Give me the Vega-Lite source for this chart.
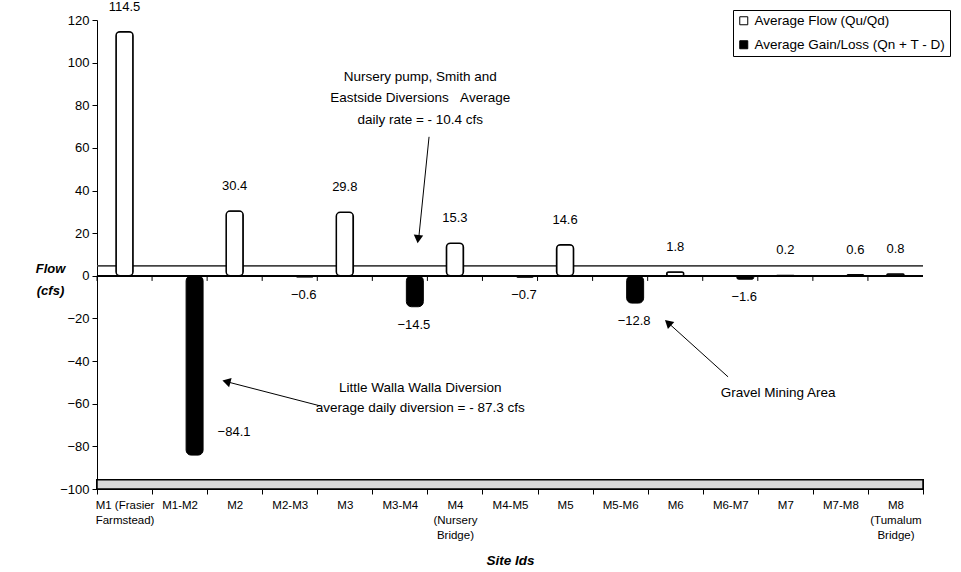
{
  "$schema": "https://vega.github.io/schema/vega-lite/v6.json",
  "width": 826,
  "height": 469,
  "autosize": "none",
  "padding": {"left": 97, "top": 20, "right": 38, "bottom": 83},
  "background": "white",
  "config": {
    "font": "Liberation Sans",
    "view": {"stroke": null},
    "axis": {"domainColor": "black", "tickColor": "black", "labelColor": "black", "titleColor": "black", "grid": false}
  },
  "resolve": {"scale": {"x": "independent"}, "axis": {"x": "independent"}},
  "layer": [
    {
      "data": {
        "values": [
          {"site": "M1 (Frasier Farmstead)", "series": "Average Flow (Qu/Qd)", "value": 114.5},
          {"site": "M1-M2", "series": "Average Gain/Loss (Qn + T - D)", "value": -84.1},
          {"site": "M2", "series": "Average Flow (Qu/Qd)", "value": 30.4},
          {"site": "M2-M3", "series": "Average Gain/Loss (Qn + T - D)", "value": -0.6},
          {"site": "M3", "series": "Average Flow (Qu/Qd)", "value": 29.8},
          {"site": "M3-M4", "series": "Average Gain/Loss (Qn + T - D)", "value": -14.5},
          {"site": "M4 (Nursery Bridge)", "series": "Average Flow (Qu/Qd)", "value": 15.3},
          {"site": "M4-M5", "series": "Average Gain/Loss (Qn + T - D)", "value": -0.7},
          {"site": "M5", "series": "Average Flow (Qu/Qd)", "value": 14.6},
          {"site": "M5-M6", "series": "Average Gain/Loss (Qn + T - D)", "value": -12.8},
          {"site": "M6", "series": "Average Flow (Qu/Qd)", "value": 1.8},
          {"site": "M6-M7", "series": "Average Gain/Loss (Qn + T - D)", "value": -1.6},
          {"site": "M7", "series": "Average Flow (Qu/Qd)", "value": 0.2},
          {"site": "M7-M8", "series": "Average Gain/Loss (Qn + T - D)", "value": 0.6},
          {"site": "M8 (Tumalum Bridge)", "series": "Average Flow (Qu/Qd)", "value": 0.8}
        ]
      },
      "encoding": {
        "x": {
          "field": "site", "type": "nominal", "sort": null,
          "scale": {"paddingInner": 0, "paddingOuter": 0},
          "axis": {
            "title": "Site Ids", "titleFontStyle": "italic", "titleFontWeight": "bold", "titleFontSize": 13.5,
            "titleY": 71, "titleBaseline": "middle",
            "labelAngle": 0, "labelFontSize": 11.5, "labelLineHeight": 15, "labelPadding": 5,
            "tickBand": "extent", "tickSize": 5, "labelBaseline": "top",
            "labelExpr": "datum.value == 'M1 (Frasier Farmstead)' ? ['M1 (Frasier', 'Farmstead)'] : datum.value == 'M4 (Nursery Bridge)' ? ['M4', '(Nursery', 'Bridge)'] : datum.value == 'M8 (Tumalum Bridge)' ? ['M8', '(Tumalum', 'Bridge)'] : datum.value"
          }
        },
        "y": {
          "field": "value", "type": "quantitative",
          "scale": {"domain": [-100, 120], "nice": false},
          "axis": {
            "values": [-100, -80, -60, -40, -20, 0, 20, 40, 60, 80, 100, 120],
            "title": ["Flow", "(cfs)"], "titleAngle": 0, "titleFontStyle": "italic", "titleFontWeight": "bold", "titleFontSize": 13,
            "titleX": -47, "titleY": 248, "titleAlign": "center", "titleBaseline": "middle", "titleLineHeight": 22,
            "labelFontSize": 13, "tickSize": 5, "labelPadding": 3
          }
        }
      },
      "layer": [
        {
          "mark": {"type": "rect", "fill": "#d9d9d9", "stroke": "black", "strokeWidth": 1.5},
          "encoding": {"x": null, "y": {"datum": -100}, "y2": {"datum": -95.7}}
        },
        {
          "mark": {"type": "rule", "color": "#444", "strokeWidth": 1},
          "encoding": {"x": null, "y": {"datum": 4.8}}
        },
        {
          "mark": {"type": "rule", "color": "black", "strokeWidth": 1},
          "encoding": {"x": null, "y": {"datum": 0}}
        },
        {
          "mark": {"type": "rule", "color": "black", "strokeWidth": 1},
          "encoding": {"x": {"field": "site", "type": "nominal", "sort": null, "bandPosition": 0}, "y": {"datum": 0}, "y2": {"datum": -2.4}}
        },
        {
          "transform": [{"filter": "datum.series == 'Average Flow (Qu/Qd)'"}],
          "mark": {"type": "bar", "size": 17, "stroke": "black", "strokeWidth": 1.5, "cornerRadius": 4},
          "encoding": {
            "color": {
              "field": "series", "type": "nominal",
              "scale": {"domain": ["Average Flow (Qu/Qd)", "Average Gain/Loss (Qn + T - D)"], "range": ["white", "black"]},
              "legend": {
                "orient": "none", "legendX": 636, "legendY": -10, "title": null,
                "strokeColor": "black", "fillColor": "white", "padding": 4,
                "symbolType": "square", "symbolSize": 64, "symbolStrokeColor": "black", "symbolStrokeWidth": 1,
                "labelFontSize": 13.5, "labelColor": "black", "labelLimit": 0, "rowPadding": 9, "labelOffset": 4
              }
            }
          }
        },
        {
          "transform": [{"filter": "datum.series != 'Average Flow (Qu/Qd)'"}],
          "mark": {"type": "bar", "size": 17, "xOffset": 15, "stroke": "black", "strokeWidth": 1, "cornerRadius": 5},
          "encoding": {"color": {"field": "series", "type": "nominal"}}
        },
        {
          "transform": [{"filter": "datum.value > 0"}, {"filter": "datum.series == 'Average Flow (Qu/Qd)'"}],
          "mark": {"type": "text", "dy": -25, "baseline": "middle", "fontSize": 13, "color": "black"},
          "encoding": {"text": {"field": "value", "type": "quantitative", "format": ".1f"}}
        },
        {
          "transform": [{"filter": "datum.value > 0"}, {"filter": "datum.series != 'Average Flow (Qu/Qd)'"}],
          "mark": {"type": "text", "dy": -25, "xOffset": 15, "baseline": "middle", "fontSize": 13, "color": "black"},
          "encoding": {"text": {"field": "value", "type": "quantitative", "format": ".1f"}}
        },
        {
          "transform": [{"filter": "datum.value < 0 && datum.value > -50"}],
          "mark": {"type": "text", "dy": 18, "xOffset": 14, "baseline": "middle", "fontSize": 13, "color": "black"},
          "encoding": {"text": {"field": "value", "type": "quantitative", "format": ".1f"}}
        },
        {
          "transform": [{"filter": "datum.value <= -50"}],
          "mark": {"type": "text", "dy": -23, "xOffset": 38, "align": "left", "baseline": "middle", "fontSize": 13, "color": "black"},
          "encoding": {"text": {"field": "value", "type": "quantitative", "format": ".1f"}}
        }
      ]
    },
    {
      "data": {"values": [{}]},
      "layer": [
        {
          "mark": {"type": "text", "align": "center", "baseline": "middle", "lineHeight": 21.5, "fontSize": 13.5, "color": "black"},
          "encoding": {
            "x": {"datum": 5.87, "type": "quantitative", "scale": {"domain": [0, 15], "nice": false, "zero": false}, "axis": null},
            "y": {"datum": 93.3, "type": "quantitative"},
            "text": {"value": ["Nursery pump, Smith and", "Eastside Diversions\u00a0\u00a0\u00a0Average", "daily rate = - 10.4 cfs"]}
          }
        },
        {
          "mark": {"type": "text", "align": "center", "baseline": "middle", "lineHeight": 20, "fontSize": 13.5, "color": "black"},
          "encoding": {
            "x": {"datum": 5.87, "type": "quantitative"},
            "y": {"datum": -52.5, "type": "quantitative"},
            "text": {"value": ["Little Walla Walla Diversion", "average daily diversion = - 87.3 cfs"]}
          }
        },
        {
          "mark": {"type": "text", "align": "center", "baseline": "middle", "fontSize": 13.5, "color": "black"},
          "encoding": {
            "x": {"datum": 12.37, "type": "quantitative"},
            "y": {"datum": -54.9, "type": "quantitative"},
            "text": {"value": "Gravel Mining Area"}
          }
        },
        {
          "mark": {"type": "rule", "color": "black", "strokeWidth": 1},
          "encoding": {"x": {"datum": 6.03, "type": "quantitative"}, "x2": {"datum": 5.84}, "y": {"datum": 65.2, "type": "quantitative"}, "y2": {"datum": 17}}
        },
        {
          "mark": {"type": "point", "shape": "triangle-up", "angle": 186, "filled": true, "color": "black", "size": 90, "opacity": 1},
          "encoding": {"x": {"datum": 5.83, "type": "quantitative"}, "y": {"datum": 17.2, "type": "quantitative"}}
        },
        {
          "mark": {"type": "rule", "color": "black", "strokeWidth": 1},
          "encoding": {"x": {"datum": 4.05, "type": "quantitative"}, "x2": {"datum": 2.33}, "y": {"datum": -61.0, "type": "quantitative"}, "y2": {"datum": -49.5}}
        },
        {
          "mark": {"type": "point", "shape": "triangle-up", "angle": 285, "filled": true, "color": "black", "size": 90, "opacity": 1},
          "encoding": {"x": {"datum": 2.35, "type": "quantitative"}, "y": {"datum": -49.6, "type": "quantitative"}}
        },
        {
          "mark": {"type": "rule", "color": "black", "strokeWidth": 1},
          "encoding": {"x": {"datum": 11.46, "type": "quantitative"}, "x2": {"datum": 10.37}, "y": {"datum": -47.4, "type": "quantitative"}, "y2": {"datum": -22}}
        },
        {
          "mark": {"type": "point", "shape": "triangle-up", "angle": 312, "filled": true, "color": "black", "size": 90, "opacity": 1},
          "encoding": {"x": {"datum": 10.37, "type": "quantitative"}, "y": {"datum": -22.0, "type": "quantitative"}}
        }
      ]
    }
  ]
}
